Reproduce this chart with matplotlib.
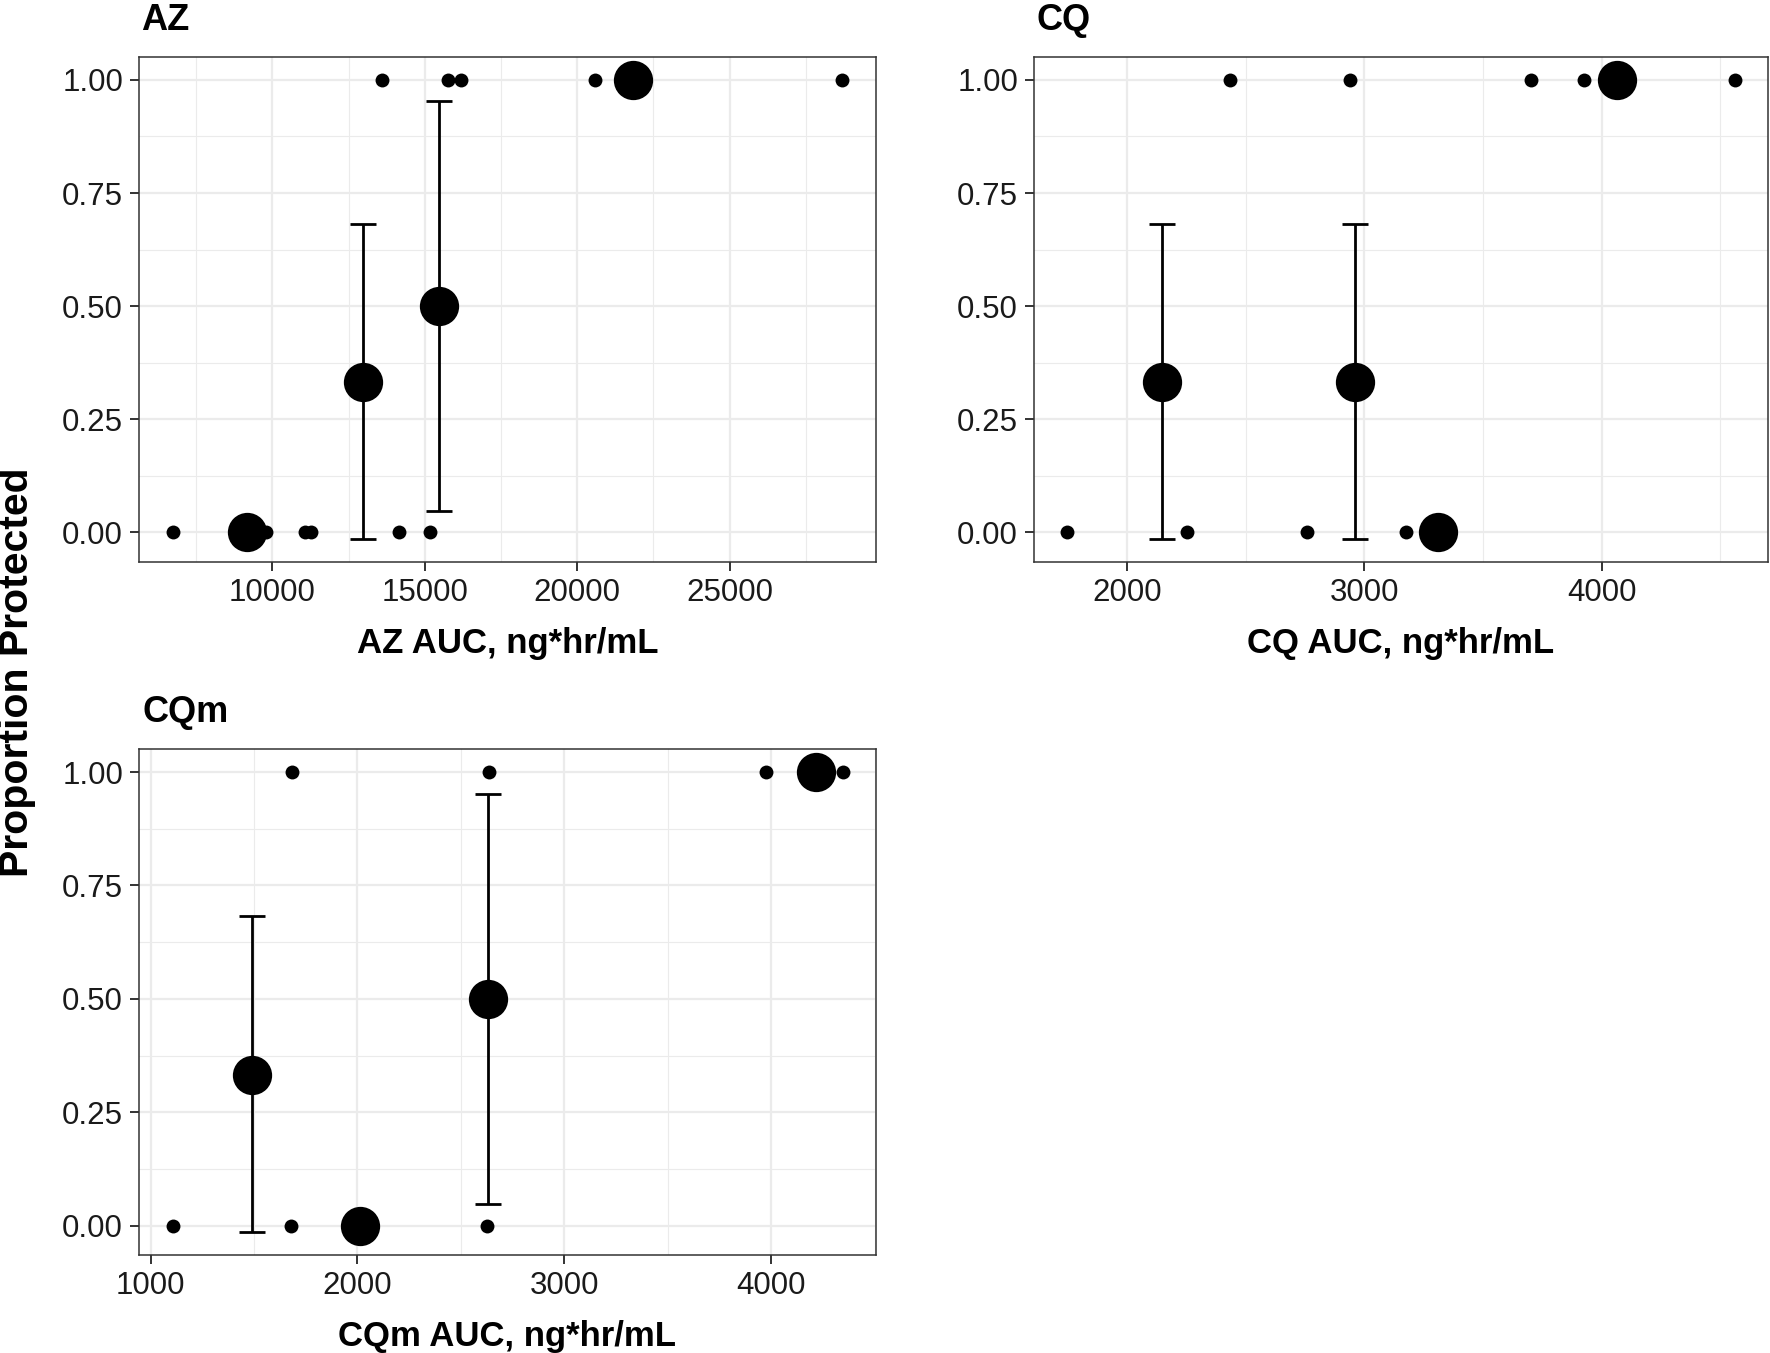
import matplotlib
matplotlib.use('Agg')
import matplotlib.pyplot as plt
from matplotlib.ticker import MultipleLocator

plt.rcParams['font.family'] = ['Liberation Sans', 'DejaVu Sans']

# individual subjects: AUC with outcome 0 (not protected) / 1 (protected)
AZ_AUC_0 = [6726, 9804, 11080, 11277, 14158, 15173]
AZ_AUC_1 = [13602, 15763, 16188, 20576, 28700]
CQ_AUC_0 = [1749, 2252, 2757, 3178]
CQ_AUC_1 = [2436, 2939, 3702, 3928, 4561]
CQM_AUC_0 = [1106, 1680, 2624]
CQM_AUC_1 = [1685, 2638, 3975, 4345]

# group means (proportion protected) at group mean AUC
AZ_GRP_AUC = [9181, 12979, 15468, 21820]
AZ_GRP_PROP = [0.0, 0.333, 0.5, 1.0]
CQ_GRP_AUC = [2147, 2960, 3309, 4065]
CQ_GRP_PROP = [0.333, 0.333, 0.0, 1.0]
CQM_GRP_AUC = [1489, 2013, 2632, 4219]
CQM_GRP_PROP = [0.333, 0.0, 0.5, 1.0]

# confidence intervals (only for groups with 0 < p < 1)
AZ_CI_AUC = [12979, 15468]
AZ_CI_MEAN = [0.333, 0.5]
AZ_CI_LO = [-0.015, 0.047]
AZ_CI_HI = [0.681, 0.953]
CQ_CI_AUC = [2147, 2960]
CQ_CI_MEAN = [0.333, 0.333]
CQ_CI_LO = [-0.015, -0.015]
CQ_CI_HI = [0.681, 0.681]
CQM_CI_AUC = [1489, 2632]
CQM_CI_MEAN = [0.333, 0.5]
CQM_CI_LO = [-0.014, 0.048]
CQM_CI_HI = [0.682, 0.951]

W, H = 1770, 1353
fig = plt.figure(figsize=(W / 100, H / 100), dpi=100)
fig.patch.set_facecolor('white')


def px_axes(left, top, right, bottom):
    return fig.add_axes([left / W, 1 - bottom / H, (right - left) / W, (bottom - top) / H])


def draw_panel(ax, x0, x1, gx, gy, cx, cm, clo, chi, major, xlabel):
    # ggplot-like 5% expansion
    xs = x0 + x1
    lo, hi = min(xs), max(xs)
    pad = 0.05 * (hi - lo)
    ax.set_xlim(lo - pad, hi + pad)
    ylo = min([0.0] + clo)
    yhi = max([1.0] + chi)
    ypad = 0.05 * (yhi - ylo)
    ax.set_ylim(ylo - ypad, yhi + ypad)

    ax.xaxis.set_major_locator(MultipleLocator(major))
    ax.xaxis.set_minor_locator(MultipleLocator(major / 2))
    ax.yaxis.set_major_locator(MultipleLocator(0.25))
    ax.yaxis.set_minor_locator(MultipleLocator(0.125))
    ax.yaxis.set_major_formatter(matplotlib.ticker.FormatStrFormatter('%.2f'))
    ax.xaxis.set_major_formatter(matplotlib.ticker.FormatStrFormatter('%d'))

    ax.grid(True, which='major', color='#EBEBEB', linewidth=1.6, zorder=0)
    ax.grid(True, which='minor', color='#EBEBEB', linewidth=0.8, zorder=0)
    ax.set_axisbelow(True)

    for sp in ax.spines.values():
        sp.set_color('#333333')
        sp.set_linewidth(1.1)
    ax.tick_params(which='major', length=6.5, width=1.4, color='#333333',
                   labelsize=22.5, labelcolor='#1a1a1a', pad=5)
    ax.tick_params(which='minor', length=0)

    ax.scatter(x0, [0] * len(x0), s=100, color='black', zorder=3, linewidths=0)
    ax.scatter(x1, [1] * len(x1), s=100, color='black', zorder=3, linewidths=0)

    yerr = [[m - l for m, l in zip(cm, clo)], [h - m for m, h in zip(cm, chi)]]
    ax.errorbar(cx, cm, yerr=yerr, fmt='none', ecolor='black', elinewidth=2.0,
                capsize=9.5, capthick=2.0, zorder=4)
    ax.scatter(gx, gy, s=800, color='black', zorder=5, linewidths=0)

    ax.set_xlabel(xlabel, fontsize=25, fontweight='bold', labelpad=14)


ax_az = px_axes(139, 57, 876, 562)
draw_panel(ax_az, AZ_AUC_0, AZ_AUC_1, AZ_GRP_AUC, AZ_GRP_PROP,
           AZ_CI_AUC, AZ_CI_MEAN, AZ_CI_LO, AZ_CI_HI, 5000, 'AZ AUC, ng*hr/mL')

ax_cq = px_axes(1034, 57, 1768, 562)
draw_panel(ax_cq, CQ_AUC_0, CQ_AUC_1, CQ_GRP_AUC, CQ_GRP_PROP,
           CQ_CI_AUC, CQ_CI_MEAN, CQ_CI_LO, CQ_CI_HI, 1000, 'CQ AUC, ng*hr/mL')

ax_cqm = px_axes(139, 749, 876, 1255)
draw_panel(ax_cqm, CQM_AUC_0, CQM_AUC_1, CQM_GRP_AUC, CQM_GRP_PROP,
           CQM_CI_AUC, CQM_CI_MEAN, CQM_CI_LO, CQM_CI_HI, 1000, 'CQm AUC, ng*hr/mL')

# panel titles
for label, x, y in [('AZ', 141, 20), ('CQ', 1036, 20), ('CQm', 143, 712)]:
    fig.text(x / W, 1 - y / H, label, fontsize=26, fontweight='bold',
             ha='left', va='center')

fig.text(17 / W, 1 - 672 / H, 'Proportion Protected', fontsize=29.5,
         fontweight='bold', rotation=90, ha='center', va='center')

fig.savefig('out.png', dpi=100, facecolor='white')
